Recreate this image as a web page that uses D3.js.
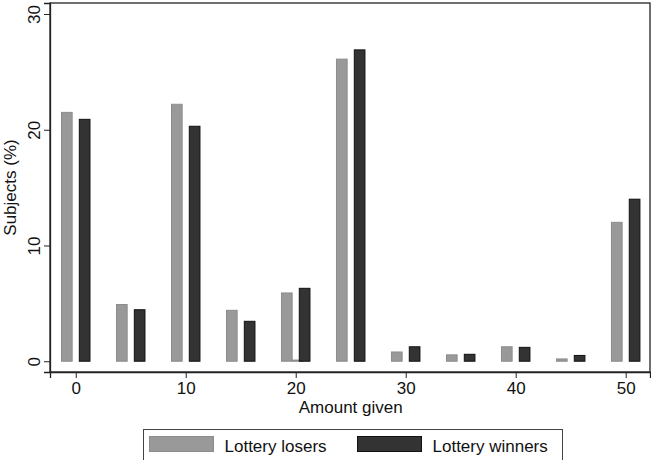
<!DOCTYPE html>
<html>
<head>
<meta charset="utf-8">
<script src="https://cdn.jsdelivr.net/npm/d3@7"></script>
<style>
  html, body { margin: 0; padding: 0; background: #fff; }
  svg { display: block; font-family: "Liberation Sans", Arial, sans-serif; }
</style>
</head>
<body>
<svg id="chart" width="651" height="460"></svg>
<script>
// Share of subjects (%) by amount given, split by lottery outcome
const amounts = [0, 5, 10, 15, 20, 21, 25, 30, 35, 40, 45, 50];
const losers  = [21.5, 4.9, 22.2, 4.4, 5.9, 0.1, 26.1, 0.8, 0.55, 1.25, 0.2, 12.0];
const winners = [20.9, 4.45, 20.3, 3.45, 6.3, 0, 26.9, 1.25, 0.6, 1.2, 0.5, 14.0];
const xTicks = [0, 10, 20, 30, 40, 50];
const yTicks = [0, 10, 20, 30];
const seriesNames = ["Lottery losers", "Lottery winners"];

const svg = d3.select("#chart");
const plot = { left: 50, right: 650, top: 3, bottom: 372 };

const x = d3.scaleLinear().domain([-2.34, 52.21]).range([plot.left, plot.right]);
const y = d3.scaleLinear().domain([-0.93, 30.95]).range([plot.bottom, plot.top]);

const barW = 1.06, offset = 0.81;
const styles = [
  { fill: "#999999", stroke: "#8c8c8c" },
  { fill: "#333333", stroke: "#111111" }
];

// Plot frame
svg.append("rect")
  .attr("x", plot.left).attr("y", plot.top)
  .attr("width", plot.right - plot.left).attr("height", plot.bottom - plot.top)
  .attr("fill", "none").attr("stroke", "#222").attr("stroke-width", 1.3);

// Bars: losers first, winners drawn on top
[losers, winners].forEach((vals, si) => {
  const dir = si === 0 ? -1 : 1;
  const data = amounts.map((a, i) => ({ a, v: vals[i] })).filter(d => d.v > 0);
  svg.append("g").selectAll("rect").data(data).join("rect")
    .attr("x", d => x(d.a + dir * offset - barW / 2) + 0.5)
    .attr("width", d => x(barW) - x(0) - 1)
    .attr("y", d => y(d.v))
    .attr("height", d => y(0) - y(d.v))
    .attr("fill", styles[si].fill)
    .attr("stroke", styles[si].stroke)
    .attr("stroke-width", 1);
});

// X axis
const xAxis = svg.append("g").attr("transform", `translate(0,${plot.bottom})`)
  .call(d3.axisBottom(x).tickValues(xTicks).tickSize(6).tickPadding(4).tickFormat(d3.format("d")));
xAxis.select(".domain").attr("stroke", "#222").attr("stroke-width", 1.3);
xAxis.selectAll(".tick line").attr("stroke", "#222");
xAxis.selectAll("text").attr("font-size", 17).attr("fill", "#111")
  .attr("font-family", "Liberation Sans, Arial, sans-serif");

// Y axis with rotated labels
const yAxis = svg.append("g").attr("transform", `translate(${plot.left},0)`)
  .call(d3.axisLeft(y).tickValues(yTicks).tickSize(6).tickFormat(d3.format("d")));
yAxis.select(".domain").attr("stroke", "#222").attr("stroke-width", 1.3);
yAxis.selectAll(".tick line").attr("stroke", "#222");
yAxis.selectAll(".tick text")
  .attr("x", null).attr("dy", null)
  .attr("transform", "translate(-10,0) rotate(-90)")
  .attr("text-anchor", "middle")
  .attr("font-size", 17).attr("fill", "#111")
  .attr("font-family", "Liberation Sans, Arial, sans-serif");

// Axis titles
svg.append("text")
  .attr("x", (x(0) + x(50)) / 2).attr("y", 413)
  .attr("text-anchor", "middle").attr("font-size", 17).attr("fill", "#111")
  .text("Amount given");
svg.append("text")
  .attr("transform", `translate(16,${(plot.top + plot.bottom) / 2}) rotate(-90)`)
  .attr("text-anchor", "middle").attr("font-size", 17).attr("fill", "#111")
  .text("Subjects (%)");

// Legend
const legend = svg.append("g");
legend.append("rect")
  .attr("x", 143.5).attr("y", 429.5).attr("width", 419).attr("height", 40)
  .attr("fill", "#fff").attr("stroke", "#444").attr("stroke-width", 1);
const legX = [149, 357];
seriesNames.forEach((name, i) => {
  legend.append("rect")
    .attr("x", legX[i] + 0.5).attr("y", 436.5).attr("width", 64).attr("height", 15)
    .attr("fill", styles[i].fill).attr("stroke", styles[i].stroke);
  legend.append("text")
    .attr("x", legX[i] + 75.5).attr("y", 451.5)
    .attr("font-size", 17).attr("fill", "#111")
    .text(name);
});
</script>
</body>
</html>
